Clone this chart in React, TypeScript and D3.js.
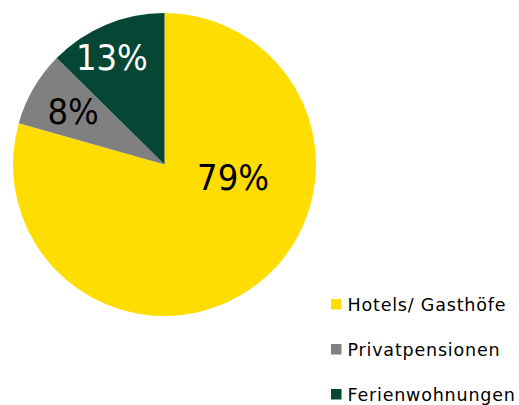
import React, { useRef, useEffect } from "react";
import * as d3 from "d3";

const categories = ["Hotels/ Gasthöfe", "Privatpensionen", "Ferienwohnungen"];
const shares = [79.4, 8.0, 12.6];
const colors = ["#ffdd00", "#808080", "#054634"];
const labelColors = ["#000000", "#000000", "#ffffff"];

// label placement (Excel "best fit"): angle shift from slice middle (deg), radius factor
const labelAngleShift = [-42.7, 0.3, -3.4];
const labelRadius = [0.46, 0.7, 0.79];

const App = () => {
  const ref = useRef<SVGSVGElement>(null);

  useEffect(() => {
    const svg = d3.select(ref.current);
    svg.selectAll("*").remove();

    const cx = 164.5;
    const cy = 164.5;
    const r = 151.5;

    const data = categories.map((c, i) => ({ name: c, value: shares[i], i }));
    const pie = d3
      .pie<any>()
      .sort(null)
      .value((d) => d.value);
    const arcs = pie(data);
    const arc = d3.arc<any>().innerRadius(0).outerRadius(r);

    const g = svg.append("g").attr("transform", `translate(${cx},${cy})`);

    g.selectAll("path")
      .data(arcs)
      .enter()
      .append("path")
      .attr("d", arc)
      .attr("fill", (d) => colors[d.data.i]);

    const labelPos = (d: any) => {
      const a =
        (d.startAngle + d.endAngle) / 2 +
        (labelAngleShift[d.data.i] * Math.PI) / 180;
      const rr = r * labelRadius[d.data.i];
      return [Math.sin(a) * rr, -Math.cos(a) * rr];
    };

    g.selectAll("text.lbl")
      .data(arcs)
      .enter()
      .append("text")
      .attr("class", "lbl")
      .attr("x", (d) => labelPos(d)[0])
      .attr("y", (d) => labelPos(d)[1])
      .attr("dy", "0.36em")
      .attr("text-anchor", "middle")
      .attr("fill", (d) => labelColors[d.data.i])
      .style("font-family", '"DejaVu Sans Condensed", "DejaVu Sans", sans-serif')
      .style("font-size", "36px")
      .text((d) => `${Math.round(d.data.value)}%`);

    const legend = svg
      .append("g")
      .attr("transform", "translate(331,299)");

    const item = legend
      .selectAll("g")
      .data(data)
      .enter()
      .append("g")
      .attr("transform", (d) => `translate(0,${d.i * 45})`);

    item
      .append("rect")
      .attr("width", 10.5)
      .attr("height", 10.5)
      .attr("fill", (d) => colors[d.i]);

    item
      .append("text")
      .attr("x", 16.5)
      .attr("y", 12)
      .attr("fill", "#000")
      .style("font-family", '"DejaVu Sans", sans-serif')
      .style("font-size", "17.5px")
      .style("letter-spacing", "0.8px")
      .text((d) => d.name);
  }, []);

  return (
    <svg
      ref={ref}
      width={519}
      height={405}
      style={{ position: "absolute", left: 0, top: 0, background: "#fff" }}
    />
  );
};

export default App;
